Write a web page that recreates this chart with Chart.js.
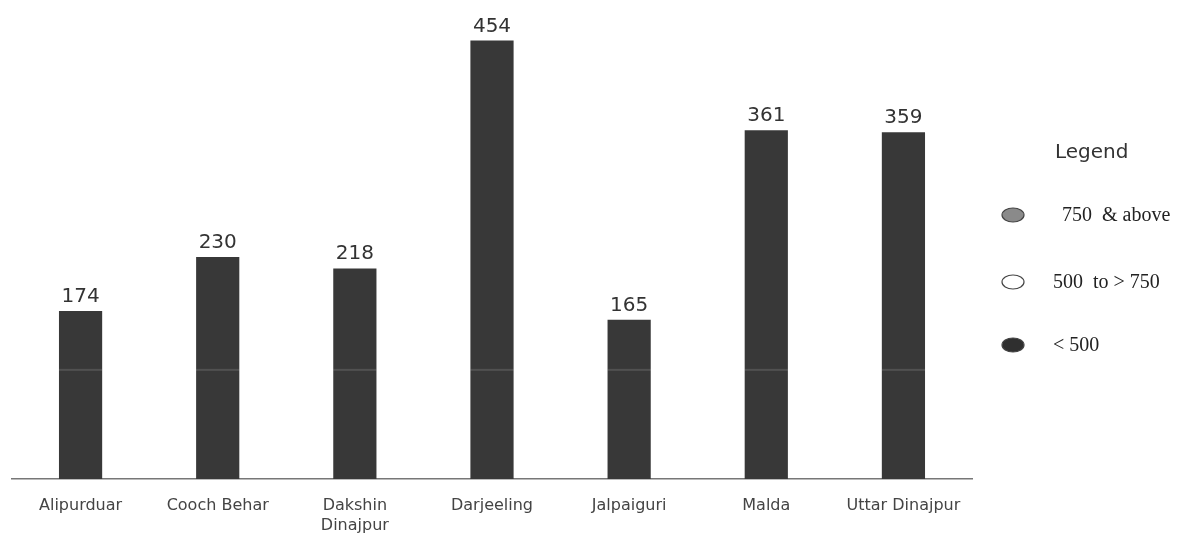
<!DOCTYPE html>
<html>
<head>
<meta charset="utf-8">
<script src="https://cdn.jsdelivr.net/npm/chart.js@4"></script>
<style>
html,body{margin:0;padding:0;background:#fff;}
#wrap{width:1182px;height:537px;position:relative;}
</style>
</head>
<body>
<div id="wrap"><canvas id="c"></canvas></div>
<script>
const categories = ['Alipurduar', 'Cooch Behar', ['Dakshin', 'Dinajpur'], 'Darjeeling', 'Jalpaiguri', 'Malda', 'Uttar Dinajpur'];
const values = [174, 230, 218, 454, 165, 361, 359];
const legendTitle = 'Legend';
const legendLabels = ['750  & above', '500  to > 750', '< 500'];
const legendFills = ['#8a8a8a', '#ffffff', '#2f2f2f'];

const valueLabels = {
  id: 'valueLabels',
  afterDatasetsDraw(chart) {
    const ctx = chart.ctx;
    const meta = chart.getDatasetMeta(0);
    const yScale = chart.scales.y;
    ctx.save();
    const ys = yScale.getPixelForValue(113);
    meta.data.forEach((bar) => {
      const w = bar.width;
      ctx.fillStyle = 'rgba(255,255,255,0.13)';
      ctx.fillRect(bar.x - w / 2, ys - 1, w, 2);
    });
    ctx.fillStyle = '#333';
    ctx.font = '20px "DejaVu Sans"';
    ctx.textAlign = 'center';
    ctx.textBaseline = 'alphabetic';
    meta.data.forEach((bar, i) => {
      ctx.fillText(String(values[i]), bar.x, bar.y - 9);
    });
    ctx.restore();
  }
};

const sideLegend = {
  id: 'sideLegend',
  afterDraw(chart) {
    const ctx = chart.ctx;
    ctx.save();
    ctx.fillStyle = '#333';
    ctx.font = '20px "DejaVu Sans"';
    ctx.textAlign = 'left';
    ctx.textBaseline = 'middle';
    ctx.fillText(legendTitle, 1055, 153);
    const rows = [215, 282, 345];
    const tx = [1062, 1053, 1053];
    ctx.font = '20px "Liberation Serif"';
    legendLabels.forEach((lab, i) => {
      ctx.beginPath();
      ctx.ellipse(1013, rows[i], 11, 7, 0, 0, Math.PI * 2);
      ctx.fillStyle = legendFills[i];
      ctx.fill();
      ctx.lineWidth = 1.2;
      ctx.strokeStyle = '#444';
      ctx.stroke();
      ctx.fillStyle = '#222';
      ctx.fillText(lab, tx[i], rows[i] + 1);
    });
    ctx.restore();
  }
};

new Chart(document.getElementById('c'), {
  type: 'bar',
  data: {
    labels: categories,
    datasets: [{
      data: values,
      backgroundColor: '#383838',
      borderWidth: 0,
      barPercentage: 0.315,
      categoryPercentage: 1.0
    }]
  },
  options: {
    responsive: true,
    maintainAspectRatio: false,
    animation: false,
    layout: { padding: { left: 12, right: 210, top: 0, bottom: 0 } },
    plugins: { legend: { display: false }, tooltip: { enabled: false } },
    scales: {
      x: {
        grid: { display: false },
        border: { display: true, color: '#777', width: 1.5 },
        ticks: {
          color: '#444',
          font: { family: '"DejaVu Sans"', size: 16, lineHeight: 1.25 },
          padding: 9,
          maxRotation: 0,
          autoSkip: false
        },
        afterFit(scale) { scale.height = 58; }
      },
      y: {
        display: false,
        min: 0,
        max: 496
      }
    }
  },
  plugins: [valueLabels, sideLegend]
});
</script>
</body>
</html>
